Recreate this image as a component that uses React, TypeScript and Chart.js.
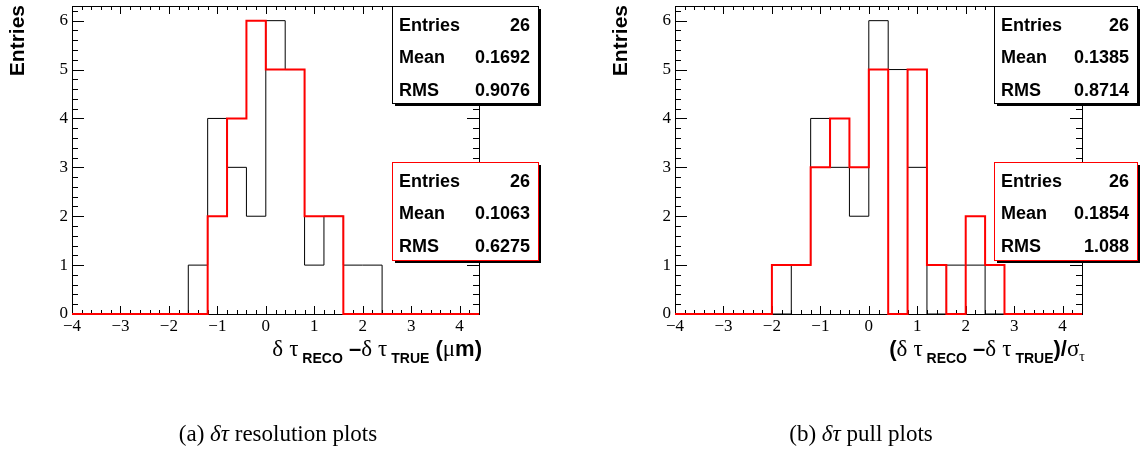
import React, { useEffect, useRef } from 'react';
import { Chart, registerables } from 'chart.js';

Chart.register(...registerables);

// ---- data ----
const binEdges = [-4.0, -3.6, -3.2, -2.8, -2.4, -2.0, -1.6, -1.2, -0.8, -0.4, 0.0, 0.4, 0.8, 1.2, 1.6, 2.0, 2.4, 2.8, 3.2, 3.6, 4.0, 4.4];
const resBlack = [0, 0, 0, 0, 0, 0, 1, 4, 3, 2, 6, 5, 1, 2, 1, 1, 0, 0, 0, 0, 0];
const resRed = [0, 0, 0, 0, 0, 0, 0, 2, 4, 6, 5, 5, 2, 2, 0, 0, 0, 0, 0, 0, 0];
const pullBlack = [0, 0, 0, 0, 0, 0, 1, 4, 3, 2, 6, 5, 3, 0, 1, 1, 0, 0, 0, 0, 0];
const pullRed = [0, 0, 0, 0, 0, 1, 1, 3, 4, 3, 5, 0, 5, 1, 0, 2, 1, 0, 0, 0, 0];

const statNames = ['Entries', 'Mean', 'RMS'];
const resBlackStats = ['26', '0.1692', '0.9076'];
const resRedStats = ['26', '0.1063', '0.6275'];
const pullBlackStats = ['26', '0.1385', '0.8714'];
const pullRedStats = ['26', '0.1854', '1.088'];

const X_MIN = -4;
const X_MAX = 4.4;
const Y_MIN = 0;
const Y_MAX = 6.3;
const MINOR_STEP = 0.2;

const yTitle = 'Entries';
const resTitle: [string, string][] = [
  ['δ', 'g'], [' ', 'b'], ['τ', 'g'], [' RECO', 'sub'], [' –', 'b'], ['δ', 'g'], [' ', 'b'], ['τ', 'g'], [' TRUE', 'sub'], [' (', 'b'], ['μ', 'g'], ['m)', 'b'],
];
const pullTitle: [string, string][] = [
  ['(', 'b'], ['δ', 'g'], [' ', 'b'], ['τ', 'g'], [' RECO', 'sub'], [' –', 'b'], ['δ', 'g'], [' ', 'b'], ['τ', 'g'], [' TRUE', 'sub'], [')/', 'b'], ['σ', 'g'], ['τ', 'subg'],
];
const resCaption: [string, string][] = [['(a) ', 'r'], ['δτ', 'i'], [' resolution plots', 'r']];
const pullCaption: [string, string][] = [['(b) ', 'r'], ['δτ', 'i'], [' pull plots', 'r']];

const W = 570;
const H = 449;

type Panel = {
  black: number[];
  red: number[];
  blackStats: string[];
  redStats: string[];
  title: [string, string][];
  caption: [string, string][];
  padLeft: number;
  padRight: number;
  boxX: number;
  boxW: number;
  captionX: number;
};

const panels: Panel[] = [
  { black: resBlack, red: resRed, blackStats: resBlackStats, redStats: resRedStats, title: resTitle, caption: resCaption, padLeft: 72, padRight: W - 479, boxX: 392, boxW: 146, captionX: 278 },
  { black: pullBlack, red: pullRed, blackStats: pullBlackStats, redStats: pullRedStats, title: pullTitle, caption: pullCaption, padLeft: 105, padRight: W - 512, boxX: 424, boxW: 143, captionX: 861 - 570 },
];

const FONTS: Record<string, { font: string; dy: number }> = {
  g: { font: '23px "Liberation Serif"', dy: 0 },
  b: { font: 'bold 22px "Liberation Sans"', dy: 0 },
  sub: { font: 'bold 14px "Liberation Sans"', dy: 7 },
  subg: { font: '14px "Liberation Serif"', dy: 5 },
  r: { font: '23px "Liberation Serif"', dy: 0 },
  i: { font: 'italic 23px "Liberation Serif"', dy: 0 },
};

function drawSegments(ctx: CanvasRenderingContext2D, segs: [string, string][], x: number, y: number, align: 'right' | 'center') {
  let total = 0;
  const widths = segs.map(([t, k]) => {
    ctx.font = FONTS[k].font;
    const w = ctx.measureText(t).width;
    total += w;
    return w;
  });
  let cx = align === 'right' ? x - total : x - total / 2;
  ctx.textAlign = 'left';
  ctx.textBaseline = 'alphabetic';
  segs.forEach(([t, k], i) => {
    ctx.font = FONTS[k].font;
    ctx.fillText(t, cx, y + FONTS[k].dy);
    cx += widths[i];
  });
}

function drawStats(ctx: CanvasRenderingContext2D, x: number, y: number, w: number, h: number, border: string, values: string[]) {
  ctx.fillStyle = '#000';
  ctx.fillRect(x + 3, y + 3, w, h);
  ctx.fillStyle = '#fff';
  ctx.fillRect(x, y, w, h);
  ctx.strokeStyle = border;
  ctx.lineWidth = 1;
  ctx.strokeRect(x + 0.5, y + 0.5, w, h);
  ctx.fillStyle = '#000';
  ctx.font = 'bold 18px "Liberation Sans"';
  ctx.textBaseline = 'alphabetic';
  statNames.forEach((n, i) => {
    const by = y + 24.5 + i * 32.7;
    ctx.textAlign = 'left';
    ctx.fillText(n, x + 7, by);
    ctx.textAlign = 'right';
    ctx.fillText(values[i], x + w - 8, by);
  });
}

function makeDeco(p: Panel) {
  return {
    id: 'rootDeco',
    beforeDatasetsDraw(chart: any) {
      const { ctx, chartArea: a, scales } = chart;
      const xs = scales.x;
      const ys = scales.y;
      ctx.save();
      ctx.strokeStyle = '#000';
      ctx.lineWidth = 1;
      const L = Math.round(a.left), R = Math.round(a.right), T = Math.round(a.top), B = Math.round(a.bottom);
      ctx.strokeRect(L + 0.5, T + 0.5, R - L, B - T);
      ctx.beginPath();
      for (let k = 0; ; k++) {
        const v = X_MIN + k * MINOR_STEP;
        if (v > X_MAX + 1e-9) break;
        const major = Math.abs(v - Math.round(v)) < 1e-6;
        const len = major ? 8 : 4;
        const px = Math.round(xs.getPixelForValue(v)) + 0.5;
        ctx.moveTo(px, B);
        ctx.lineTo(px, B - len);
        ctx.moveTo(px, T);
        ctx.lineTo(px, T + len);
      }
      for (let k = 0; ; k++) {
        const v = Y_MIN + k * MINOR_STEP;
        if (v > Y_MAX + 1e-9) break;
        const major = Math.abs(v - Math.round(v)) < 1e-6;
        const len = major ? 12 : 6;
        const py = Math.round(ys.getPixelForValue(v)) + 0.5;
        ctx.moveTo(L, py);
        ctx.lineTo(L + len, py);
        ctx.moveTo(R, py);
        ctx.lineTo(R - len, py);
      }
      ctx.stroke();
      ctx.restore();
    },
    afterDatasetsDraw(chart: any) {
      const { ctx } = chart;
      ctx.save();
      drawStats(ctx, p.boxX, 6, p.boxW, 97, '#000', p.blackStats);
      drawStats(ctx, p.boxX, 162, p.boxW, 98, '#ff0000', p.redStats);
      ctx.restore();
    },
    afterDraw(chart: any) {
      const { ctx, chartArea: a } = chart;
      ctx.save();
      ctx.fillStyle = '#000';
      // y axis title
      ctx.save();
      ctx.translate(a.left - 48, 5);
      ctx.rotate(-Math.PI / 2);
      ctx.font = 'bold 21px "Liberation Sans"';
      ctx.textAlign = 'right';
      ctx.textBaseline = 'alphabetic';
      ctx.fillText(yTitle, 0, 0);
      ctx.restore();
      // x axis title
      drawSegments(ctx, p.title, a.right + 3, 356, 'right');
      // caption
      drawSegments(ctx, p.caption, p.captionX, 441, 'center');
      ctx.restore();
    },
  };
}

function histPoints(counts: number[]) {
  return binEdges.map((e, i) => ({ x: e, y: i < counts.length ? counts[i] : 0 }));
}

function Panel({ p, left }: { p: Panel; left: number }) {
  const ref = useRef<HTMLCanvasElement | null>(null);
  useEffect(() => {
    if (!ref.current) return;
    const chart = new Chart(ref.current, {
      type: 'line',
      data: {
        datasets: [
          { data: histPoints(p.red), borderColor: '#ff0000', borderWidth: 2, stepped: 'before', pointRadius: 0, fill: false, order: 0, clip: false } as any,
          { data: histPoints(p.black), borderColor: '#000000', borderWidth: 1, stepped: 'before', pointRadius: 0, fill: false, order: 1, clip: false } as any,
        ],
      },
      options: {
        responsive: false,
        animation: false,
        devicePixelRatio: 1,
        events: [],
        layout: { padding: { top: 6, right: p.padRight, bottom: 0, left: 0 } },
        plugins: { legend: { display: false }, tooltip: { enabled: false } },
        scales: {
          x: {
            type: 'linear',
            min: X_MIN,
            max: X_MAX,
            grid: { display: false, drawTicks: false },
            border: { display: false },
            ticks: {
              stepSize: 1,
              includeBounds: false,
              maxRotation: 0,
              autoSkip: false,
              padding: 2,
              color: '#000',
              font: { family: '"Liberation Serif"', size: 17 },
              callback: (v: any) => (Number(v) < 0 ? '\u2212' + Math.abs(Number(v)) : String(v)),
            },
            afterFit: (s: any) => {
              s.height = H - 314;
              s.paddingLeft = 0;
              s.paddingRight = 0;
            },
          },
          y: {
            type: 'linear',
            min: Y_MIN,
            max: Y_MAX,
            grid: { display: false, drawTicks: false },
            border: { display: false },
            ticks: {
              stepSize: 1,
              includeBounds: false,
              padding: 4,
              color: '#000',
              font: { family: '"Liberation Serif"', size: 17 },
            },
            afterFit: (s: any) => {
              s.width = p.padLeft;
              s.paddingTop = 0;
              s.paddingBottom = 0;
            },
          },
        },
      } as any,
      plugins: [makeDeco(p)],
    });
    return () => chart.destroy();
  }, [p]);
  return (
    <canvas
      ref={ref}
      width={W}
      height={H}
      style={{ position: 'absolute', left, top: 0, width: W, height: H, display: 'block' }}
    />
  );
}

export default function App() {
  return (
    <div style={{ position: 'fixed', left: 0, top: 0, width: 1140, height: 449, background: '#fff', overflow: 'hidden' }}>
      <Panel p={panels[0]} left={0} />
      <Panel p={panels[1]} left={570} />
    </div>
  );
}
